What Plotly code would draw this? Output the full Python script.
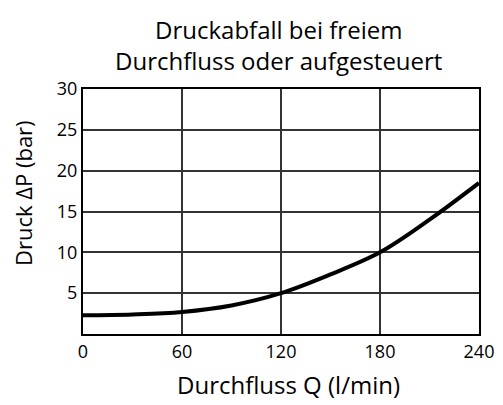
import plotly.graph_objects as go

flow_q = [0, 30, 60, 90, 120, 150, 180, 210, 240]
pressure_dp = [2.3, 2.4, 2.7, 3.5, 5.0, 7.3, 10.0, 14.0, 18.5]
x_ticks = [0, 60, 120, 180, 240]
y_ticks = [5, 10, 15, 20, 25, 30]

title_text = "Druckabfall bei freiem<br>Durchfluss oder aufgesteuert"
x_title = "Durchfluss Q (l/min)"
y_title = "Druck ΔP (bar)"

FONT = "Open Sans"
OFF = 8  # default page body margin
W, H = 503 - OFF, 405 - OFF
# desired plot area on screen: x 83..479, y 89..334
L, T = 83 - OFF, 89 - OFF
R = W - (479 - OFF)
B = H - (334 - OFF)

fig = go.Figure()
fig.add_trace(go.Scatter(
    x=flow_q, y=pressure_dp, mode="lines",
    line=dict(color="black", width=4, shape="spline"),
    hoverinfo="skip", showlegend=False,
))

fig.update_layout(
    width=W, height=H,
    margin=dict(l=L, r=R, t=T, b=B, autoexpand=False),
    paper_bgcolor="white", plot_bgcolor="white",
    font=dict(family=FONT, color="black", size=18),
    showlegend=False,
)
fig.update_xaxes(
    range=[0, 240], tickvals=x_ticks, ticktext=[str(v) for v in x_ticks],
    showgrid=True, gridcolor="#333333", gridwidth=1.5,
    showline=True, linecolor="black", linewidth=2, mirror=True,
    ticks="", zeroline=False, automargin=False,
    tickfont=dict(family=FONT, size=18, color="black"),
)
fig.update_yaxes(
    range=[0, 30], tickvals=[0] + y_ticks, ticktext=[""] + [str(v) for v in y_ticks],
    showgrid=True, gridcolor="#333333", gridwidth=1.5,
    showline=True, linecolor="black", linewidth=2, mirror=True,
    ticks="", zeroline=False, automargin=False,
    tickfont=dict(family=FONT, size=18, color="black"),
)

pw = W - L - R
ph = H - T - B

def sx(px):
    return (px - OFF - L) / pw

def sy(py):
    return (H - B - (py - OFF)) / ph

fig.add_annotation(
    text=title_text, xref="paper", yref="paper",
    x=sx(278), y=sy(45), xanchor="center", yanchor="middle",
    showarrow=False, align="center",
    font=dict(family=FONT, size=24, color="black"),
)
fig.add_annotation(
    text=x_title, xref="paper", yref="paper",
    x=sx(288), y=sy(384), xanchor="center", yanchor="middle",
    showarrow=False, font=dict(family=FONT, size=24, color="black"),
)
fig.add_annotation(
    text=y_title, textangle=-90, xref="paper", yref="paper",
    x=sx(23), y=sy(193), xanchor="center", yanchor="middle",
    showarrow=False, font=dict(family=FONT, size=22, color="black"),
)
fig.write_html("out.html")
